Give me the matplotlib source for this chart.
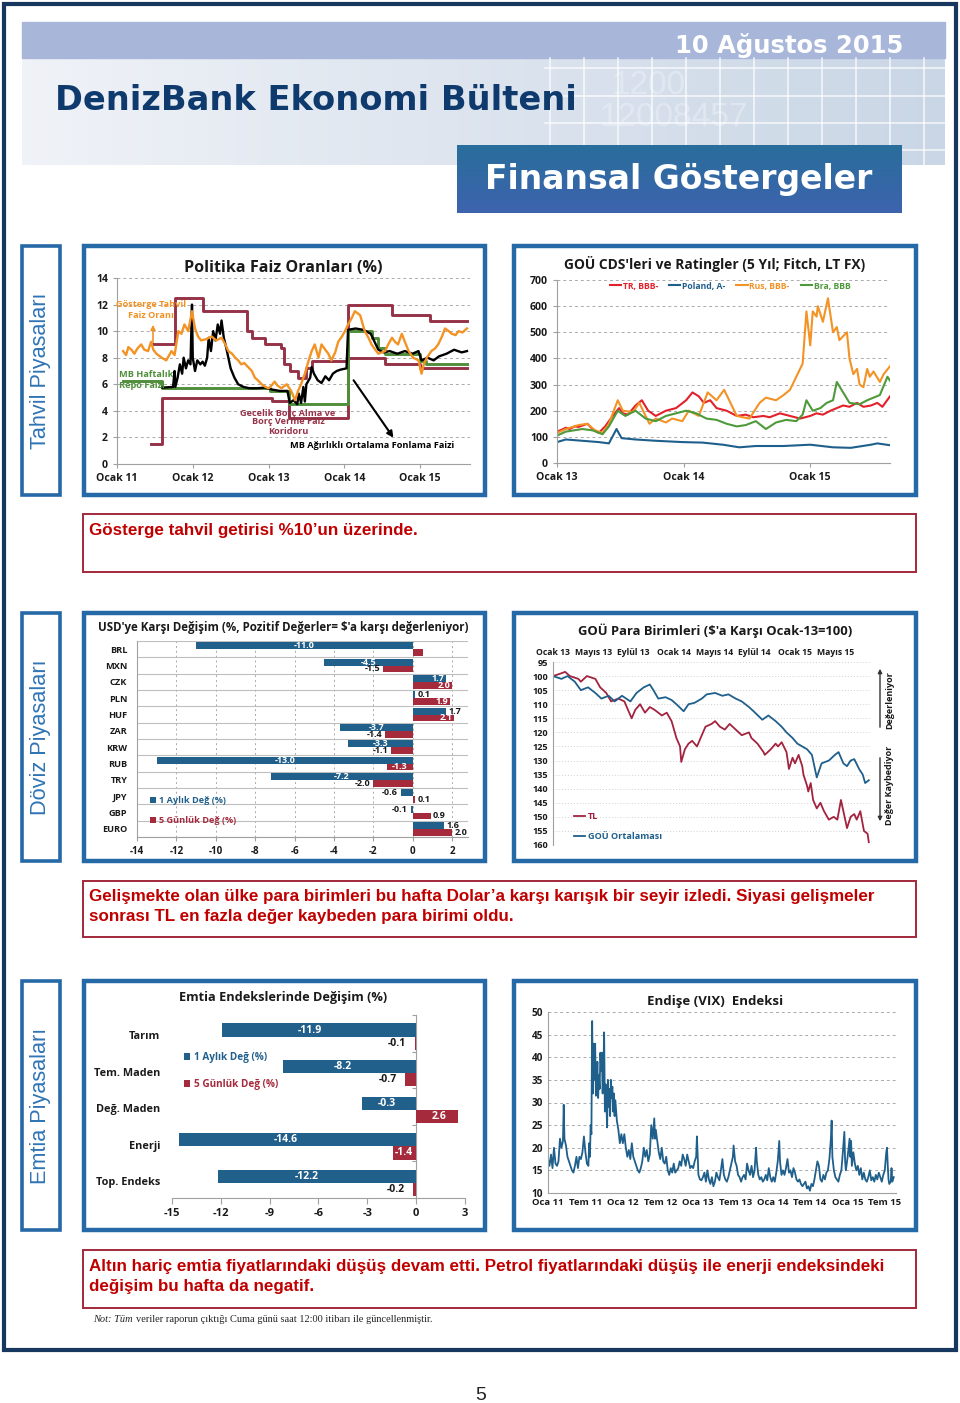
import numpy as np
import matplotlib.pyplot as plt
from matplotlib.patches import Rectangle
from matplotlib.transforms import blended_transform_factory

plt.rcParams['font.family'] = ['Open Sans', 'DejaVu Sans']

# ---------------- data ----------------
# Politika faiz oranlari (yil, %)
kor_ust_t = [2011.45, 2011.76, 2012.14, 2012.71, 2012.78, 2012.95, 2013.17, 2013.21, 2013.28, 2013.39,
             2013.50, 2013.57, 2014.05, 2014.63, 2015.13, 2015.62]
kor_ust_v = [9.0, 12.5, 11.5, 10.0, 9.5, 9.0, 8.75, 7.5, 7.0, 6.5, 7.25, 7.75, 12.0, 11.25, 10.75, 10.75]
kor_alt_t = [2011.45, 2011.59, 2013.04, 2013.27, 2014.05, 2014.54, 2015.00, 2015.62]
kor_alt_v = [1.5, 5.0, 4.75, 3.5, 8.0, 7.5, 7.25, 7.25]
repo_t = [2011.08, 2011.59, 2013.02, 2013.27, 2014.05, 2014.36, 2014.45, 2014.54, 2015.00, 2015.08, 2015.62]
repo_v = [6.25, 5.75, 5.5, 4.5, 10.0, 9.5, 8.75, 8.25, 7.75, 7.5, 7.5]
fonlama_t = [2011.60, 2011.74, 2011.76, 2011.77, 2011.80, 2011.83, 2011.86, 2011.88, 2011.91, 2011.94,
             2011.97, 2011.99, 2012.00, 2012.03, 2012.06, 2012.10, 2012.13, 2012.16, 2012.19, 2012.21,
             2012.24, 2012.27, 2012.30, 2012.33, 2012.36, 2012.38, 2012.41, 2012.44, 2012.47, 2012.50,
             2012.55, 2012.60, 2012.67, 2012.75, 2012.85, 2012.95, 2013.05, 2013.15, 2013.25, 2013.28,
             2013.33, 2013.38, 2013.40, 2013.43, 2013.46, 2013.48, 2013.50, 2013.55, 2013.57, 2013.60,
             2013.65, 2013.70, 2013.75, 2013.80, 2013.85, 2013.90, 2013.95, 2014.03, 2014.05, 2014.15,
             2014.25, 2014.35, 2014.40, 2014.45, 2014.52, 2014.60, 2014.70, 2014.80, 2014.90, 2014.98,
             2015.02, 2015.10, 2015.18, 2015.25, 2015.35, 2015.45, 2015.55, 2015.62]
fonlama_v = [5.75, 5.8, 7.0, 5.8, 6.5, 7.5, 6.8, 8.0, 7.2, 7.8,
             7.5, 12.0, 8.0, 7.0, 7.8, 7.5, 7.7, 7.4, 8.0, 9.5,
             8.5, 10.0, 9.3, 10.5, 9.8, 10.8, 9.5, 8.8, 8.0, 7.2,
             6.5, 6.0, 5.8, 5.7, 5.7, 5.75, 5.6, 5.5, 5.5, 4.6,
             4.8, 4.5, 5.3, 4.6, 5.8, 4.7, 6.0, 6.5, 7.3, 6.8,
             6.3, 6.1, 6.6, 6.3, 6.8, 7.0, 7.1, 7.2, 10.1, 10.2,
             10.1, 9.8, 9.2, 8.6, 8.4, 8.5, 8.3, 8.5, 8.3, 8.5,
             7.8, 8.0, 7.8, 8.1, 8.3, 8.6, 8.4, 8.5]
tahvil_t = [2011.08, 2011.12, 2011.15, 2011.19, 2011.23, 2011.27, 2011.32, 2011.36, 2011.41, 2011.45,
            2011.48, 2011.52, 2011.59, 2011.65, 2011.72, 2011.76, 2011.81, 2011.85, 2011.89, 2011.94,
            2011.99, 2012.03, 2012.07, 2012.11, 2012.18, 2012.25, 2012.31, 2012.38, 2012.43, 2012.47,
            2012.52, 2012.56, 2012.60, 2012.64, 2012.68, 2012.73, 2012.78, 2012.82, 2012.86, 2012.91,
            2012.96, 2013.00, 2013.04, 2013.08, 2013.12, 2013.17, 2013.24, 2013.30, 2013.35, 2013.39,
            2013.43, 2013.48, 2013.52, 2013.57, 2013.61, 2013.66, 2013.70, 2013.75, 2013.79, 2013.83,
            2013.88, 2013.92, 2013.97, 2014.01, 2014.05, 2014.10, 2014.14, 2014.21, 2014.27, 2014.32,
            2014.36, 2014.41, 2014.45, 2014.54, 2014.58, 2014.63, 2014.67, 2014.71, 2014.76, 2014.80,
            2014.85, 2014.91, 2014.98, 2015.02, 2015.05, 2015.09, 2015.15, 2015.20, 2015.24, 2015.29,
            2015.33, 2015.38, 2015.42, 2015.47, 2015.51, 2015.56, 2015.62]
tahvil_v = [8.5, 8.2, 8.8, 8.6, 8.3, 8.7, 9.0, 8.6, 8.5, 9.2,
            8.6, 8.3, 8.0, 7.8, 8.5, 8.2, 10.0, 9.8, 10.5, 10.0,
            11.5, 10.2, 9.6, 9.3, 9.4, 9.6, 9.3, 9.5, 9.0, 8.5,
            8.3, 8.0, 7.8, 7.5, 7.6, 7.3, 7.0, 6.5, 6.3, 6.0,
            5.8, 5.7, 5.9, 6.2, 5.9, 5.7, 6.0, 5.5, 4.8, 5.5,
            6.0, 6.8, 7.6, 8.5, 9.0, 8.0, 9.0, 8.6, 8.3, 7.8,
            8.4, 9.2, 9.6, 10.0, 10.5, 11.0, 11.5, 11.2, 10.0, 9.5,
            9.0, 8.6, 8.3, 8.5, 9.0, 9.5, 9.2, 9.0, 9.8, 9.2,
            8.5, 8.0, 7.8, 6.8, 7.5, 8.0, 8.5, 8.7, 9.0, 9.6,
            10.2, 10.0, 9.8, 9.7, 10.0, 9.9, 10.2]

# GOU CDS (yil, baz puan)
tr_t = [2013.00, 2013.04, 2013.07, 2013.10, 2013.14, 2013.17, 2013.24, 2013.28, 2013.33, 2013.38, 2013.44,
        2013.49, 2013.52, 2013.56, 2013.62, 2013.67, 2013.72, 2013.78, 2013.86, 2013.94, 2014.02, 2014.07,
        2014.12, 2014.16, 2014.21, 2014.26, 2014.34, 2014.42, 2014.49, 2014.55, 2014.63, 2014.68, 2014.76,
        2014.84, 2014.92, 2015.00, 2015.05, 2015.10, 2015.16, 2015.21, 2015.26, 2015.31, 2015.37, 2015.42,
        2015.48, 2015.53, 2015.57, 2015.63]
tr_v = [120, 128, 135, 130, 140, 138, 150, 130, 115, 140, 180,
        210, 190, 185, 220, 240, 200, 180, 200, 210, 240, 270,
        255, 230, 240, 210, 200, 180, 185, 175, 180, 175, 190,
        180, 170, 180, 190, 185, 200, 210, 220, 215, 230, 215,
        220, 230, 215, 255]
pl_t = [2013.00, 2013.07, 2013.20, 2013.33, 2013.41, 2013.47, 2013.51, 2013.62, 2013.78, 2013.99, 2014.15,
        2014.31, 2014.44, 2014.57, 2014.79, 2015.00, 2015.18, 2015.32, 2015.48, 2015.53, 2015.63]
pl_v = [80, 90, 85, 80, 75, 130, 95, 90, 85, 80, 78,
        70, 60, 65, 65, 70, 60, 58, 70, 75, 68]
rus_t = [2013.00, 2013.07, 2013.17, 2013.24, 2013.30, 2013.36, 2013.41, 2013.48, 2013.52, 2013.60, 2013.65,
         2013.73, 2013.78, 2013.86, 2013.91, 2013.99, 2014.04, 2014.12, 2014.19, 2014.26, 2014.32, 2014.39,
         2014.42, 2014.52, 2014.60, 2014.65, 2014.73, 2014.79, 2014.84, 2014.89, 2014.94, 2014.97, 2015.00,
         2015.02, 2015.05, 2015.06, 2015.10, 2015.14, 2015.18, 2015.21, 2015.23, 2015.29, 2015.31, 2015.34,
         2015.37, 2015.39, 2015.42, 2015.45, 2015.47, 2015.50, 2015.55, 2015.58, 2015.63]
rus_v = [115, 130, 145, 150, 125, 115, 150, 240, 200, 195, 230,
         150, 170, 155, 170, 160, 200, 180, 270, 240, 280, 210,
         180, 170, 230, 250, 240, 260, 280, 330, 380, 580, 450,
         580, 560, 600, 540, 630, 500, 520, 470, 500, 400, 340,
         360, 300, 290, 360, 330, 350, 310, 340, 370]
bra_t = [2013.00, 2013.07, 2013.20, 2013.28, 2013.36, 2013.41, 2013.48, 2013.54, 2013.62, 2013.70, 2013.78,
         2013.86, 2013.94, 2014.02, 2014.10, 2014.18, 2014.26, 2014.34, 2014.42, 2014.49, 2014.57, 2014.65,
         2014.73, 2014.81, 2014.89, 2014.94, 2014.97, 2015.02, 2015.08, 2015.13, 2015.18, 2015.21, 2015.26,
         2015.31, 2015.39, 2015.45, 2015.50, 2015.55, 2015.61, 2015.63]
bra_v = [105, 120, 130, 125, 110, 140, 200, 180, 200, 170, 160,
         180, 190, 200, 190, 170, 165, 150, 140, 145, 160, 130,
         155, 165, 160, 185, 240, 200, 210, 230, 240, 310, 270,
         230, 225, 240, 250, 260, 330, 315]
cds_isim = ['TR, BBB-', 'Poland, A-', 'Rus, BBB-', 'Bra, BBB']

# USD'ye karsi degisim (%)
fx_kur = ['BRL', 'MXN', 'CZK', 'PLN', 'HUF', 'ZAR', 'KRW', 'RUB', 'TRY', 'JPY', 'GBP', 'EURO']
fx_aylik = [-11.0, -4.5, 1.7, 0.1, 1.7, -3.7, -3.3, -13.0, -7.2, -0.6, -0.1, 1.6]
fx_haftalik = [0.5, -1.5, 2.0, 1.9, 2.1, -1.4, -1.1, -1.3, -2.0, 0.1, 0.9, 2.0]

# GOU para birimleri (Ocak-13=100)
tl_t = [2013.00, 2013.07, 2013.10, 2013.14, 2013.21, 2013.23, 2013.28, 2013.35, 2013.39, 2013.44, 2013.48,
        2013.54, 2013.59, 2013.65, 2013.68, 2013.72, 2013.76, 2013.80, 2013.84, 2013.90, 2013.94, 2013.98,
        2014.02, 2014.05, 2014.06, 2014.09, 2014.12, 2014.15, 2014.19, 2014.22, 2014.26, 2014.31, 2014.34,
        2014.38, 2014.42, 2014.46, 2014.51, 2014.56, 2014.62, 2014.64, 2014.69, 2014.74, 2014.75, 2014.80,
        2014.84, 2014.86, 2014.89, 2014.93, 2014.95, 2014.98, 2015.00, 2015.03, 2015.06, 2015.07, 2015.10,
        2015.11, 2015.13, 2015.15, 2015.18, 2015.21, 2015.24, 2015.28, 2015.32, 2015.35, 2015.38, 2015.40,
        2015.43, 2015.46, 2015.49, 2015.51, 2015.54, 2015.57, 2015.60, 2015.61]
tl_v = [100, 99, 98.5, 100, 101, 102, 100, 101, 104, 106, 109,
        108, 109, 115, 112, 110, 113, 111, 112, 114, 113, 116,
        122, 125, 130.5, 126, 124, 123, 125, 122, 118, 117, 116,
        118, 119, 117, 119, 121, 120, 122, 124, 127, 128, 126,
        124, 125, 123.5, 127, 133, 129, 131, 128, 132, 135, 139,
        141, 138, 144, 147, 145, 148, 151, 150, 151, 144, 148,
        154, 150, 149, 151, 148, 155, 156, 159]
gou_t = [2013.00, 2013.07, 2013.12, 2013.18, 2013.23, 2013.29, 2013.35, 2013.40, 2013.46, 2013.51, 2013.57,
         2013.64, 2013.69, 2013.75, 2013.80, 2013.83, 2013.87, 2013.93, 2013.98, 2014.02, 2014.08, 2014.12,
         2014.17, 2014.23, 2014.27, 2014.34, 2014.40, 2014.45, 2014.51, 2014.56, 2014.62, 2014.67, 2014.73,
         2014.78, 2014.84, 2014.89, 2014.93, 2014.98, 2015.02, 2015.06, 2015.10, 2015.14, 2015.18, 2015.22,
         2015.28, 2015.33, 2015.36, 2015.40, 2015.43, 2015.46, 2015.49, 2015.53, 2015.56, 2015.58, 2015.61]
gou_v = [100, 101, 100, 102, 105, 104, 106, 108, 107, 109, 107,
         109, 106, 104, 103, 105, 108, 107.5, 108.5, 110, 112.5, 110,
         109.5, 108, 106.5, 106, 107, 106.5, 108, 109, 111, 113, 115.5,
         114, 116, 118, 120, 122, 124, 125, 126, 128, 136, 131,
         130, 128, 127, 131, 132, 130, 129.5, 133, 135, 138, 137]

# Emtia endeksleri (%)
emtia = ['Tarım', 'Tem. Maden', 'Değ. Maden', 'Enerji', 'Top. Endeks']
emtia_aylik = [-11.9, -8.2, -3.3, -14.6, -12.2]
emtia_aylik_etiket = ['-11.9', '-8.2', '-0.3', '-14.6', '-12.2']
emtia_haftalik = [-0.1, -0.7, 2.6, -1.4, -0.2]

# VIX
vix_t = [2011.00, 2011.02, 2011.04, 2011.06, 2011.08, 2011.10, 2011.12, 2011.14, 2011.16, 2011.18,
         2011.20, 2011.21, 2011.22, 2011.24, 2011.26, 2011.28, 2011.30, 2011.32, 2011.34, 2011.36,
         2011.38, 2011.40, 2011.42, 2011.44, 2011.46, 2011.48, 2011.50, 2011.52, 2011.54, 2011.55,
         2011.56, 2011.57, 2011.58, 2011.59, 2011.60, 2011.61, 2011.62, 2011.63, 2011.64, 2011.65,
         2011.66, 2011.67, 2011.68, 2011.69, 2011.70, 2011.71, 2011.72, 2011.73, 2011.74, 2011.75,
         2011.76, 2011.77, 2011.78, 2011.79, 2011.80, 2011.81, 2011.82, 2011.83, 2011.84, 2011.85,
         2011.86, 2011.87, 2011.88, 2011.89, 2011.90, 2011.92, 2011.94, 2011.96, 2011.98, 2012.00,
         2012.02, 2012.04, 2012.06, 2012.08, 2012.10, 2012.12, 2012.14, 2012.16, 2012.18, 2012.20,
         2012.22, 2012.24, 2012.26, 2012.28, 2012.30, 2012.32, 2012.34, 2012.36, 2012.38, 2012.40,
         2012.42, 2012.43, 2012.44, 2012.46, 2012.48, 2012.50, 2012.52, 2012.54, 2012.56, 2012.58,
         2012.60, 2012.62, 2012.64, 2012.66, 2012.68, 2012.70, 2012.72, 2012.74, 2012.76, 2012.78,
         2012.80, 2012.82, 2012.84, 2012.86, 2012.88, 2012.90, 2012.92, 2012.94, 2012.96, 2012.98,
         2012.99, 2013.01, 2013.03, 2013.05, 2013.07, 2013.09, 2013.11, 2013.13, 2013.15, 2013.17,
         2013.19, 2013.21, 2013.23, 2013.25, 2013.27, 2013.29, 2013.31, 2013.33, 2013.35, 2013.37,
         2013.39, 2013.41, 2013.43, 2013.45, 2013.47, 2013.48, 2013.50, 2013.52, 2013.54, 2013.56,
         2013.58, 2013.60, 2013.62, 2013.64, 2013.66, 2013.68, 2013.70, 2013.72, 2013.74, 2013.76,
         2013.78, 2013.79, 2013.81, 2013.83, 2013.85, 2013.87, 2013.89, 2013.91, 2013.93, 2013.95,
         2013.97, 2013.99, 2014.01, 2014.03, 2014.05, 2014.07, 2014.09, 2014.10, 2014.12, 2014.14,
         2014.16, 2014.18, 2014.20, 2014.22, 2014.24, 2014.26, 2014.28, 2014.30, 2014.32, 2014.34,
         2014.36, 2014.38, 2014.40, 2014.42, 2014.44, 2014.46, 2014.48, 2014.50, 2014.52, 2014.54,
         2014.56, 2014.58, 2014.60, 2014.62, 2014.64, 2014.66, 2014.68, 2014.70, 2014.72, 2014.74,
         2014.76, 2014.78, 2014.79, 2014.80, 2014.82, 2014.84, 2014.86, 2014.88, 2014.90, 2014.92,
         2014.94, 2014.96, 2014.97, 2014.98, 2015.00, 2015.02, 2015.03, 2015.04, 2015.05, 2015.06,
         2015.08, 2015.10, 2015.12, 2015.14, 2015.16, 2015.18, 2015.20, 2015.22, 2015.24, 2015.26,
         2015.28, 2015.30, 2015.32, 2015.34, 2015.36, 2015.38, 2015.40, 2015.42, 2015.44, 2015.46,
         2015.48, 2015.50, 2015.52, 2015.53, 2015.54, 2015.55, 2015.56, 2015.58, 2015.59, 2015.60,
         2015.62]
vix_v = [17.5, 16, 18.5, 15.5, 20, 16.5, 16, 17, 22, 20,
         21.5, 29.5, 22, 20.5, 18, 17, 16, 15, 14.5, 16,
         18, 15.5, 18, 17.5, 19, 22.5, 19, 16.5, 16, 21,
         18, 25, 23, 48, 32, 43, 35, 43, 31.5, 34,
         39, 31, 36, 33, 41, 37, 41, 32, 37, 45.5,
         28, 34, 30, 24.5, 35, 29, 33, 27, 35, 31,
         33.5, 28, 32, 27, 30.5, 26, 24, 21, 23, 21,
         23, 20, 18, 19.5, 17.5, 21, 18, 17, 16, 15,
         14.5, 15.5, 17, 20, 18, 19.5, 17, 18.5, 25, 22,
         26.5, 22, 24, 21.5, 19, 17.5, 20, 17, 16.5, 18,
         15, 14, 15.5, 14.5, 16.5, 14.5, 15, 15.5, 17, 16,
         18.5, 17.5, 16, 18.5, 17, 15.5, 16, 15.5, 17, 18,
         22.5, 14, 13, 12.8, 13.5, 14.5, 12.5, 15, 13, 12,
         13.5, 11.5, 12.5, 14.5, 13.5, 12.8, 15, 17.5, 14, 13,
         12.5, 13.5, 15, 16.5, 18, 20.5, 17, 16, 14, 13.5,
         12.5, 13.5, 14, 13, 16.5, 15, 14, 16, 13.5, 15,
         20, 17, 14, 13, 13.5, 12.5, 13, 14, 12.8, 15.5,
         13.5, 12.5, 13.5, 12.5, 14.5, 17, 21.5, 17, 14, 15,
         14, 15.5, 17.5, 14.5, 15, 13.5, 15.5, 14.5, 13, 12.5,
         13, 12, 11.5, 12, 12.5, 11, 11.5, 10.5, 12, 11.5,
         13, 15, 17, 16, 13, 12.5, 14, 13, 14.5, 15,
         17.5, 22, 26, 18, 15, 13.5, 13, 12.5, 14, 15,
         19, 23.5, 17, 15, 17.5, 20.5, 22, 18, 21.5, 16,
         19, 16.5, 15, 16, 14, 15.5, 13, 14.5, 13, 12.5,
         13.5, 15, 12.8, 13.5, 12.5, 14, 13, 14.5, 13.5, 12.5,
         14, 15, 19, 20, 16, 13, 12, 12.5, 15.5, 12.5,
         13.5]

# ---------------- page ----------------
W, H = 960, 1403
fig = plt.figure(figsize=(9.6, 14.03), dpi=100)
fig.patch.set_facecolor('white')


def px_box(x0, y0, x1, y1):
    return [x0 / W, 1 - y1 / H, (x1 - x0) / W, (y1 - y0) / H]


bg = fig.add_axes([0, 0, 1, 1])
bg.axis('off')
renderer = fig.canvas.get_renderer()


def fit(t, width):
    # scale font so the (unrotated) text is `width` pixels long
    rot = t.get_rotation()
    t.set_rotation(0)
    w = t.get_window_extent(renderer).width
    t.set_fontsize(t.get_fontsize() * width / w)
    t.set_rotation(rot)
    return t


SANS = ['Liberation Sans', 'DejaVu Sans']
NAVY = '#17375E'
PANEL = '#2569A6'

# header
grad = np.linspace(0, 1, 256)[None, :, None]
c0 = np.array([0.94, 0.95, 0.97])
c1 = np.array([0.79, 0.84, 0.90])
bg.imshow(c0 + (c1 - c0) * grad, extent=(22, 945, 165, 58), aspect='auto', zorder=0)
bg.add_patch(Rectangle((22, 22), 923, 36, color='#A8B6DA', zorder=1))
for gx in np.arange(550, 945, 34):
    bg.plot([gx, gx], [58, 165], color='white', lw=1.2, alpha=0.75, zorder=1)
for gy in [68, 96, 123, 150]:
    bg.plot([545, 945], [gy, gy], color='white', lw=1.2, alpha=0.75, zorder=1)
bg.text(612, 86, '1200', fontsize=24, color='white', alpha=0.3, family=SANS, va='center', zorder=1)
bg.text(600, 118, '12008457', fontsize=24, color='white', alpha=0.3, family=SANS, va='center', zorder=1)

gv = np.linspace(0, 1, 64)[:, None, None]
b0 = np.array([0.16, 0.43, 0.61])
b1 = np.array([0.24, 0.39, 0.68])
bg.imshow(b0 + (b1 - b0) * gv, extent=(457, 902, 213, 145), aspect='auto', zorder=2)

fit(bg.text(903, 46, '10 Ağustos 2015', color='white', fontweight='bold', fontsize=20,
            ha='right', va='center', family=['DejaVu Sans'], zorder=3), 229)
fit(bg.text(55, 101, 'DenizBank Ekonomi Bülteni', color='#0E3A6E', fontweight='bold', fontsize=24,
            ha='left', va='center', family=['DejaVu Sans'], zorder=3), 520)
fit(bg.text(679, 180, 'Finansal Göstergeler', color='white', fontweight='bold', fontsize=24,
            ha='center', va='center', family=['DejaVu Sans'], zorder=3), 388)

# outer frame
bg.add_patch(Rectangle((4, 4), 952, 1346, fill=False, ec=NAVY, lw=3, zorder=5))

# section labels and panels
rows = [(246, 495, 'Tahvil Piyasaları'), (613, 861, 'Döviz Piyasaları'), (981, 1230, 'Emtia Piyasaları')]
for y0, y1, name in rows:
    bg.add_patch(Rectangle((22, y0), 38, y1 - y0, fc='white', ec=PANEL, lw=2.6, zorder=2))
    fit(bg.text(41, (y0 + y1) / 2, name, rotation=90, color='#2F74B5', fontsize=14,
                ha='center', va='center', family=SANS, zorder=3), 158)
    for x0, x1 in [(84, 485), (514, 916)]:
        bg.add_patch(Rectangle((x0, y0), x1 - x0, y1 - y0, fc='white', ec=PANEL, lw=3.2, zorder=2))

# red comment boxes
notes = [(514, 572, ['Gösterge tahvil getirisi %10’un üzerinde.']),
         (881, 937, ['Gelişmekte olan ülke para birimleri bu hafta Dolar’a karşı karışık bir seyir izledi. Siyasi gelişmeler',
                     'sonrası TL en fazla değer kaybeden para birimi oldu.']),
         (1250, 1308, ['Altın hariç emtia fiyatlarındaki düşüş devam etti. Petrol fiyatlarındaki düşüş ile enerji endeksindeki',
                       'değişim bu hafta da negatif.'])]
probe = fit(bg.text(89, 0, notes[1][2][0], fontsize=10.5, fontweight='bold', family=SANS), 787)
note_fs = probe.get_fontsize()
probe.remove()
for y0, y1, lines in notes:
    bg.add_patch(Rectangle((83, y0), 833, y1 - y0, fill=False, ec='#A2283A', lw=1.4, zorder=2))
    for k, line in enumerate(lines):
        bg.text(89, y0 + 16 + 20 * k, line, color='#C00000', fontsize=note_fs, fontweight='bold',
                family=SANS, ha='left', va='center', zorder=3)

not1 = bg.text(93, 1320, 'Not: Tüm', fontsize=7.5, style='italic', family=['Liberation Serif', 'DejaVu Serif'],
               va='center', color='#222222')
nw = not1.get_window_extent(renderer).width
bg.text(93 + nw + 3, 1320, 'veriler raporun çıktığı Cuma günü saat 12:00 itibarı ile güncellenmiştir.',
        fontsize=7.5, family=['Liberation Serif', 'DejaVu Serif'], va='center', color='#222222')
bg.text(481, 1395, '5', fontsize=14, family=SANS, ha='center', va='center', color='#222222')

bg.set_xlim(0, W)
bg.set_ylim(H, 0)

GRID = '#AAAAAA'
AXC = '#A0A0A0'


def style(ax):
    ax.set_facecolor('none')
    for s in ['top', 'right']:
        ax.spines[s].set_visible(False)
    for s in ['left', 'bottom']:
        ax.spines[s].set_color(AXC)
    ax.tick_params(colors=AXC, labelcolor='#1A1A1A', length=3, width=0.8)


def title(x, y, s, width, size=11):
    fit(bg.text(x, y, s, ha='center', va='center', fontweight='bold', fontsize=size, color='#1A1A1A',
                zorder=4), width)


# ---- chart 1: policy rates ----
ax1 = fig.add_axes(px_box(117, 278, 470, 464))
style(ax1)
ax1.step(kor_ust_t, kor_ust_v, where='post', color='#963248', lw=2.1, zorder=2)
ax1.step(kor_alt_t, kor_alt_v, where='post', color='#963248', lw=2.1, zorder=2)
ax1.step(repo_t, repo_v, where='post', color='#4F8E3A', lw=2.1, zorder=3)
ax1.plot(fonlama_t, fonlama_v, color='black', lw=1.7, zorder=4)
ax1.plot(tahvil_t, tahvil_v, color='#F39325', lw=1.7, zorder=5)
ax1.set_xlim(2011, 2015.66)
ax1.set_ylim(0, 14)
ax1.set_yticks(range(0, 15, 2), [str(v) for v in range(0, 15, 2)], fontweight='bold', fontsize=7.6)
ax1.set_xticks([2011, 2012, 2013, 2014, 2015], ['Ocak 11', 'Ocak 12', 'Ocak 13', 'Ocak 14', 'Ocak 15'],
               fontweight='bold', fontsize=7.6)
ax1.grid(axis='y', color=GRID, ls=(0, (3, 3)), lw=0.7)
ax1.set_axisbelow(True)
title(283, 268, 'Politika Faiz Oranları (%)', 199)
kw = dict(transform=bg.transData, fontweight='bold', fontsize=6.6, zorder=6)
ax1.text(151, 310, 'Gösterge Tahvil\nFaiz Oranı', color='#F39325', ha='center', va='center',
         linespacing=1.15, **kw)
ax1.text(119, 380, 'MB Haftalık\nRepo Faizi', color='#4F8E3A', ha='left', va='center', linespacing=1.15, **kw)
ax1.text(288, 422, 'Gecelik Borç Alma ve\nBorç Verme Faiz\nKoridoru', color='#963248', ha='center',
         va='center', linespacing=1.0, **kw)
ax1.text(290, 445, 'MB Ağırlıklı Ortalama Fonlama Faizi', color='black', ha='left', va='center', **kw)
bg.annotate('', xy=(153, 322), xytext=(153, 345),
            arrowprops=dict(arrowstyle='-|>', color='#F39325', lw=1.2, mutation_scale=7), zorder=6)
ax1.annotate('', xy=(395, 440), xytext=(352, 378), xycoords=bg.transData, textcoords=bg.transData,
             arrowprops=dict(arrowstyle='-|>', color='black', lw=1.5, mutation_scale=9), zorder=6)

# ---- chart 2: CDS ----
ax2 = fig.add_axes(px_box(557, 280, 890, 463))
style(ax2)
for tt, vv, c, n in [(tr_t, tr_v, '#E3212B', cds_isim[0]), (pl_t, pl_v, '#1F5F8B', cds_isim[1]),
                     (rus_t, rus_v, '#F39325', cds_isim[2]), (bra_t, bra_v, '#4E9A3A', cds_isim[3])]:
    ax2.plot(tt, vv, color=c, lw=1.5, label=n)
ax2.set_xlim(2013, 2015.63)
ax2.set_ylim(0, 700)
ax2.set_yticks(range(0, 701, 100), [str(v) for v in range(0, 701, 100)], fontweight='bold', fontsize=7.6)
ax2.set_xticks([2013, 2014, 2015], ['Ocak 13', 'Ocak 14', 'Ocak 15'], fontweight='bold', fontsize=7.6)
ax2.grid(axis='y', color=GRID, ls=(0, (3, 3)), lw=0.7)
ax2.set_axisbelow(True)
leg = ax2.legend(loc='center', bbox_to_anchor=(730, 286), bbox_transform=bg.transData, ncol=4,
                 frameon=False, handlelength=1.3, columnspacing=1.3, handletextpad=0.2,
                 prop={'size': 6.2, 'weight': 'bold'})
for t, c in zip(leg.get_texts(), ['#E3212B', '#1F5F8B', '#F39325', '#4E9A3A']):
    t.set_color(c)
title(715, 264, "GOÜ CDS'leri ve Ratingler (5 Yıl; Fitch, LT FX)", 301)

# ---- chart 3: FX bars ----
BLUE = '#22608C'
RED = '#A52A3C'
ax3 = fig.add_axes(px_box(137, 641, 468, 837))
style(ax3)
yy = np.arange(len(fx_kur))
b1 = ax3.barh(yy - 0.21, fx_aylik, height=0.42, color=BLUE, label='1 Aylık Değ (%)', zorder=3)
b2 = ax3.barh(yy + 0.21, fx_haftalik, height=0.42, color=RED, label='5 Günlük Değ (%)', zorder=3)
ax3.set_xlim(-14, 2.8)
ax3.set_ylim(len(fx_kur) - 0.5, -0.5)
ax3.set_xticks(range(-14, 3, 2), [str(v) for v in range(-14, 3, 2)], fontweight='bold', fontsize=7)
ax3.set_yticks(yy, fx_kur, fontweight='bold', fontsize=6.6)
ax3.set_yticks(np.arange(-0.5, len(fx_kur), 1), minor=True)
ax3.tick_params(axis='y', which='both', length=0, pad=7)
ax3.grid(axis='y', which='minor', color='#BFBFBF', lw=0.8)
ax3.grid(axis='x', which='major', color=GRID, ls=(0, (2, 3)), lw=0.7)
ax3.set_axisbelow(True)
fx_ay_ic = [True, True, True, False, False, True, True, True, True, False, False, False]
fx_hf_ic = [None, False, True, True, True, False, False, True, False, False, False, False]
for i in range(len(fx_kur)):
    for v, dy, inside in [(fx_aylik[i], -0.21, fx_ay_ic[i]), (fx_haftalik[i], 0.21, fx_hf_ic[i])]:
        if inside is None:
            continue
        s = f'{v:.1f}'
        if inside:
            x, ha, col = (v / 2, 'center', 'white') if v < 0 else (v - 0.1, 'right', 'white')
        else:
            x, ha, col = (v - 0.15, 'right', '#1A1A1A') if v < 0 else (v + 0.12, 'left', '#1A1A1A')
        ax3.text(x, yy[i] + dy, s, ha=ha, va='center', color=col, fontsize=6.5, fontweight='bold', zorder=4)
leg3 = ax3.legend(handles=[b1, b2], loc='upper left', bbox_to_anchor=(142, 788), bbox_transform=bg.transData,
                  frameon=False, handlelength=0.6, handleheight=0.6, handletextpad=0.4, labelspacing=1.2,
                  prop={'size': 6.6, 'weight': 'bold'})
for t, c in zip(leg3.get_texts(), [BLUE, RED]):
    t.set_color(c)
title(283, 628, "USD'ye Karşı Değişim (%, Pozitif Değerler= $'a karşı değerleniyor)", 370)

# ---- chart 4: EM currencies ----
ax4 = fig.add_axes(px_box(553, 662, 870, 845))
style(ax4)
ax4.spines['bottom'].set_visible(False)
ax4.plot(tl_t, tl_v, color='#A3233F', lw=1.3, label='TL')
ax4.plot(gou_t, gou_v, color='#1F5F8B', lw=1.3, label='GOÜ Ortalaması')
ax4.set_xlim(2013, 2015.62)
ax4.set_ylim(160, 95)
ax4.set_yticks(range(95, 161, 5), [str(v) for v in range(95, 161, 5)], fontsize=6.6, fontweight='bold')
ax4.xaxis.tick_top()
ay_t = [2013, 2013 + 1 / 3, 2013 + 2 / 3, 2014, 2014 + 1 / 3, 2014 + 2 / 3, 2015, 2015 + 1 / 3]
ay_l = ['Ocak 13', 'Mayıs 13', 'Eylül 13', 'Ocak 14', 'Mayıs 14', 'Eylül 14', 'Ocak 15', 'Mayıs 15']
ax4.set_xticks(ay_t, ay_l, fontsize=6.2, fontweight='bold')
ax4.tick_params(axis='both', length=0)
ax4.grid(axis='y', color='#D0D0D0', ls=(0, (1, 2)), lw=0.7)
ax4.set_axisbelow(True)
leg4 = ax4.legend(loc='upper left', bbox_to_anchor=(566, 804), bbox_transform=bg.transData, frameon=False,
                  handlelength=1.2, handletextpad=0.3, labelspacing=1.2, prop={'size': 6.6, 'weight': 'bold'})
for t, c in zip(leg4.get_texts(), ['#A3233F', '#1F5F8B']):
    t.set_color(c)
bg.annotate('', xy=(880, 666), xytext=(880, 730),
            arrowprops=dict(arrowstyle='-|>', color='#333333', lw=1, mutation_scale=6), zorder=6)
bg.annotate('', xy=(880, 824), xytext=(880, 755),
            arrowprops=dict(arrowstyle='-|>', color='#333333', lw=1, mutation_scale=6), zorder=6)
bg.text(890, 700, 'Değerleniyor', rotation=90, ha='center', va='center', fontsize=6.5, fontweight='bold',
        color='#1A1A1A', zorder=6)
bg.text(890, 785, 'Değer Kaybediyor', rotation=90, ha='center', va='center', fontsize=6.5, fontweight='bold',
        color='#1A1A1A', zorder=6)
title(715, 631, "GOÜ Para Birimleri ($'a Karşı Ocak-13=100)", 274)

# ---- chart 5: commodities ----
ax5 = fig.add_axes(px_box(172, 1015, 465, 1198))
style(ax5)
ey = np.arange(len(emtia))
e1 = ax5.barh(ey - 0.09, emtia_aylik, height=0.36, color=BLUE, label='1 Aylık Değ (%)', zorder=3)
e2 = ax5.barh(ey + 0.27, emtia_haftalik, height=0.36, color=RED, label='5 Günlük Değ (%)', zorder=3)
ax5.set_xlim(-15, 3)
ax5.set_ylim(len(emtia) - 0.5, -0.5)
ax5.spines['left'].set_position(('data', 0))
ax5.set_yticks(np.arange(-0.5, len(emtia), 1), [''] * (len(emtia) + 1))
ax5.set_xticks(range(-15, 4, 3), [str(v) for v in range(-15, 4, 3)], fontweight='bold', fontsize=8)
ax5.tick_params(axis='x', length=4)
tr5 = blended_transform_factory(ax5.transAxes, ax5.transData)
for i, name in enumerate(emtia):
    ax5.text(-0.04, ey[i] + 0.09, name, transform=tr5, ha='right', va='center', fontsize=7.8,
             fontweight='bold', color='#1A1A1A')
    ax5.text(emtia_aylik[i] * 0.55, ey[i] - 0.09, emtia_aylik_etiket[i], ha='center', va='center',
             color='white', fontsize=7.5, fontweight='bold', zorder=4)
    v = emtia_haftalik[i]
    if abs(v) >= 1:
        ax5.text(v * 0.55, ey[i] + 0.27, f'{v:.1f}', ha='center', va='center', color='white', fontsize=7.5,
                 fontweight='bold', zorder=4)
    else:
        ax5.text(v - 0.5, ey[i] + 0.27, f'{v:.1f}', ha='right', va='center', color='#1A1A1A', fontsize=7.5,
                 fontweight='bold', zorder=4)
leg5 = ax5.legend(handles=[e1, e2], loc='upper left', bbox_to_anchor=(175, 1043), bbox_transform=bg.transData,
                  frameon=False, handlelength=0.6, handleheight=0.6, handletextpad=0.4, labelspacing=1.6,
                  prop={'size': 7.2, 'weight': 'bold'})
for t, c in zip(leg5.get_texts(), [BLUE, RED]):
    t.set_color(c)
title(283, 998, 'Emtia Endekslerinde Değişim (%)', 208)

# ---- chart 6: VIX ----
ax6 = fig.add_axes(px_box(548, 1012, 896, 1193))
style(ax6)
ax6.plot(vix_t, vix_v, color='#1F5F8B', lw=1.3)
ax6.set_xlim(2011, 2015.65)
ax6.set_ylim(10, 50)
ax6.set_yticks(range(10, 51, 5), [str(v) for v in range(10, 51, 5)], fontweight='bold', fontsize=7.2)
yt = [2011 + 0.5 * k for k in range(10)]
yl = ['Oca 11', 'Tem 11', 'Oca 12', 'Tem 12', 'Oca 13', 'Tem 13', 'Oca 14', 'Tem 14', 'Oca 15', 'Tem 15']
ax6.set_xticks(yt, yl, fontweight='bold', fontsize=6.8)
ax6.tick_params(axis='both', length=0)
ax6.grid(axis='y', color=GRID, ls=(0, (3, 3)), lw=0.7)
ax6.set_axisbelow(True)
title(715, 1002, 'Endişe (VIX)  Endeksi', 135)

fig.savefig('out.png', dpi=100, facecolor='white')
